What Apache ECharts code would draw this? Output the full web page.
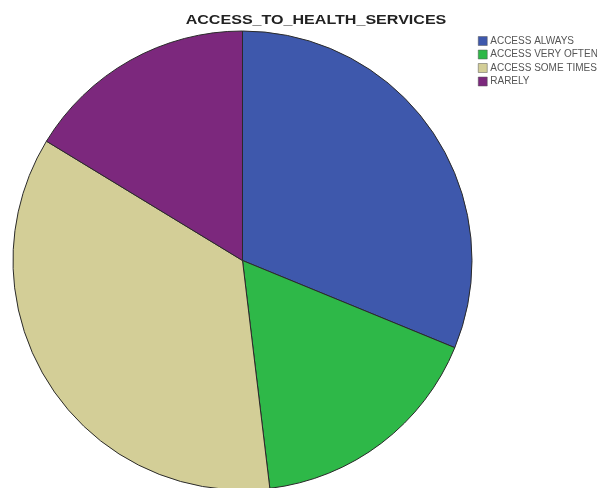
<!DOCTYPE html>
<html>
<head>
<meta charset="utf-8">
<script src="https://cdn.jsdelivr.net/npm/echarts@6/dist/echarts.min.js"></script>
<style>
  html, body { margin: 0; padding: 0; background: #fff; }
  #chart { width: 597px; height: 488px; }
</style>
</head>
<body>
<div id="chart"></div>
<script>
  // 类别和百分比
  const categories = ['ACCESS ALWAYS', 'ACCESS VERY OFTEN', 'ACCESS SOME TIMES', 'RARELY']
  const values = [31.2, 16.9, 35.6, 16.3]
  const colors = ['#3e58ac', '#2eb848', '#d3ce97', '#7c287d']
  const chartTitle = 'ACCESS_TO_HEALTH_SERVICES'

  const chart = echarts.init(document.getElementById('chart'))
  chart.setOption({
    animation: false,
    color: colors,
    // 标题字体比较宽，用 graphic 横向拉伸一点
    graphic: [{
      type: 'text',
      x: 316,
      y: 13,
      scaleX: 1.19,
      style: {
        text: chartTitle,
        align: 'center',
        verticalAlign: 'top',
        fontFamily: 'Liberation Sans, Arial, sans-serif',
        fontSize: 13.5,
        fontWeight: 'bold',
        fill: '#222'
      }
    }],
    legend: {
      orient: 'vertical',
      left: 478,
      top: 36,
      padding: 0,
      itemWidth: 9,
      itemHeight: 9,
      itemGap: 3.5,
      icon: 'rect',
      itemStyle: { borderColor: '#555', borderWidth: 0.5 },
      textStyle: {
        fontFamily: 'Liberation Sans, Arial, sans-serif',
        fontSize: 10,
        lineHeight: 10,
        color: '#555',
        padding: [0, 0, 0, -2]
      },
      data: categories
    },
    series: [{
      type: 'pie',
      center: [242.5, 260.5],
      radius: 229.5,
      startAngle: 90,
      clockwise: true,
      label: { show: false },
      labelLine: { show: false },
      emphasis: { disabled: true },
      itemStyle: { borderColor: '#2a2a2a', borderWidth: 1 },
      data: categories.map((name, i) => ({ name: name, value: values[i] }))
    }]
  })
</script>
</body>
</html>
